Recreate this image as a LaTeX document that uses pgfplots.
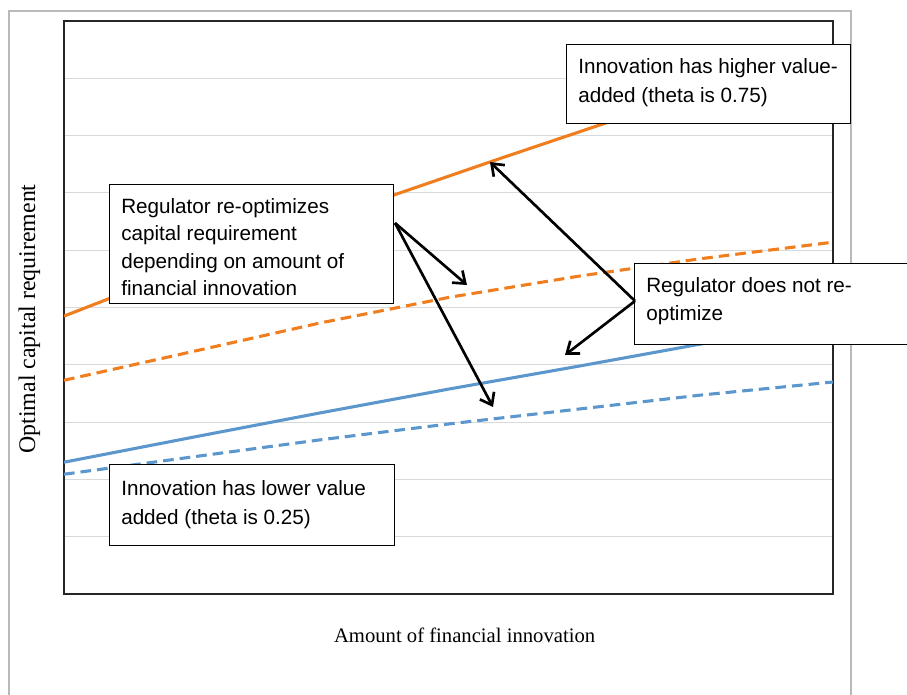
\documentclass[border=0pt]{standalone}
\usepackage{fontspec}
\setmainfont{Liberation Serif}
\newfontfamily\arial{Liberation Sans}
\usepackage{pgfplots}
\pgfplotsset{compat=1.18}
\usetikzlibrary{arrows.meta}
\definecolor{xlorange}{RGB}{240,125,30}
\definecolor{xlblue}{RGB}{91,150,205}
\definecolor{gridgray}{RGB}{217,217,217}
\definecolor{framegray}{RGB}{185,185,185}
\begin{document}
\begin{tikzpicture}
\useasboundingbox (-48pt,-75pt) rectangle (632.25pt,445.5pt);
\begin{scope}[x=0.75pt,y=-0.75pt,shift={(-48pt,445.5pt)}]
\draw[framegray, line width=1.5pt] (9,720) -- (9,11) -- (851,11) -- (851,720);
\end{scope}
\begin{axis}[
  scale only axis, width=576.75pt, height=429.75pt,
  xmin=0, xmax=10, ymin=0, ymax=10,
  xtick=\empty, ytick={0,1,...,10}, yticklabels={},
  major tick length=0pt,
  ymajorgrids, grid style={gridgray, line width=0.75pt},
  axis line style={black!85, line width=1.1pt},
  xlabel={Amount of financial innovation},
  ylabel={Optimal capital requirement},
  xlabel style={at={(axis description cs:0.521,-0.0838)}, anchor=base, font=\fontsize{15.5}{18}\selectfont},
  ylabel style={at={(axis description cs:-0.045,0.48)}, anchor=center, rotate=0, font=\fontsize{17.9}{20}\selectfont},
]
\addplot[xlorange, line width=2.3pt] coordinates {(0,4.85)(1.769,5.77)(3.719,6.70)(5.670,7.60)(7.620,8.48)(10,9.53)};
\addplot[xlorange, line width=2.3pt, dash pattern=on 8pt off 4.5pt] coordinates {(0,3.73)(1.769,4.26)(3.329,4.73)(5.019,5.18)(6.710,5.55)(8.270,5.85)(10,6.14)};
\addplot[xlblue, line width=2.3pt] coordinates {(0,2.30)(1.769,2.76)(3.329,3.16)(5.019,3.58)(6.710,3.98)(8.270,4.36)(10,4.76)};
\addplot[xlblue, line width=2.3pt, dash pattern=on 8pt off 4.5pt] coordinates {(0,2.09)(1.769,2.41)(3.329,2.69)(5.019,2.97)(6.710,3.23)(8.270,3.47)(10,3.70)};
\end{axis}
\begin{scope}[x=0.75pt,y=-0.75pt,shift={(-48pt,445.5pt)},
  box/.style={fill=white, draw=black, line width=0.75pt},
  txt/.style={anchor=base west, inner sep=0pt, font=\arial\fontsize{15.5}{18}\selectfont},
  arr/.style={line width=2pt, -{Straight Barb[length=8pt, width=12pt, line width=2pt]}}]
\filldraw[box] (566,44) rectangle (850,123);
\node[txt] at (578,73) {Innovation has higher value-};
\node[txt] at (578,102) {added (theta is 0.75)};
\filldraw[box] (109,184) rectangle (393,303);
\node[txt] at (121,213) {Regulator re-optimizes};
\node[txt] at (121,240.5) {capital requirement};
\node[txt] at (121,268) {depending on amount of};
\node[txt] at (121,295.5) {financial innovation};
\filldraw[box] (634,263) rectangle (915,344);
\node[txt] at (646,292) {Regulator does not re-};
\node[txt] at (646,320) {optimize};
\filldraw[box] (109,464) rectangle (394,545);
\node[txt] at (121,495) {Innovation has lower value};
\node[txt] at (121,524) {added (theta is 0.25)};
\draw[arr] (395,223) -- (467,285);
\draw[arr] (395,223) -- (493,407);
\draw[arr] (635,301) -- (490,162);
\draw[arr] (635,301) -- (565,355);
\end{scope}
\end{tikzpicture}
\end{document}
